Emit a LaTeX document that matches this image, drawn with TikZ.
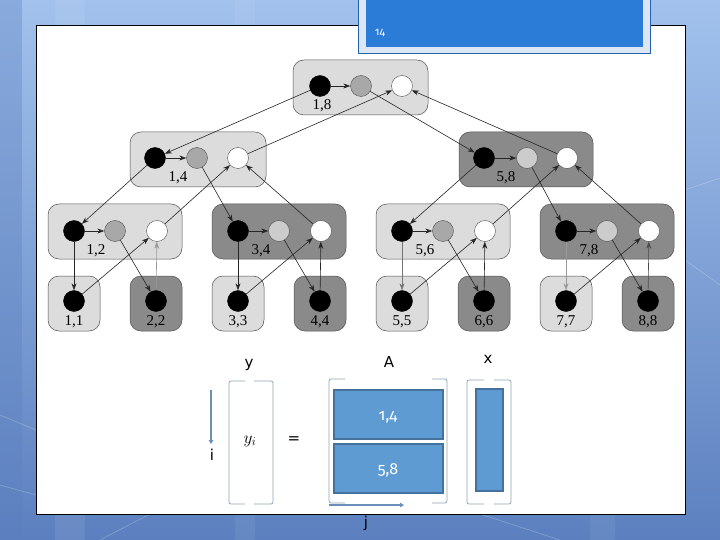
\documentclass[tikz,border=0pt]{standalone}
\usepackage{fontspec}
\setmainfont{Liberation Serif}
\newfontfamily\sfx{DejaVu Sans}
\newfontfamily\oldf[Numbers=OldStyle]{Fira Sans}
\usetikzlibrary{arrows.meta}
\definecolor{bgtop}{HTML}{A2C1EC}
\definecolor{bgbot}{HTML}{5C80BF}
\definecolor{lightbox}{HTML}{DCDCDC}
\definecolor{darkbox}{HTML}{8A8A8A}
\definecolor{boxedge}{HTML}{505050}
\definecolor{midgray}{HTML}{A8A8A8}
\definecolor{steel}{HTML}{6A8FB8}
\definecolor{brack}{HTML}{8EA6B8}
\definecolor{cellfill}{HTML}{5E9BD2}
\definecolor{celledge}{HTML}{44729C}
\definecolor{titlefill}{HTML}{2B7CD6}
\definecolor{titleedge}{HTML}{DCE6F4}
\tikzset{
  lbox/.style={fill=lightbox, draw=boxedge, line width=0.5pt, rounded corners=11pt},
  dbox/.style={fill=darkbox, draw=boxedge, line width=0.5pt, rounded corners=11pt},
  bk/.style={circle, fill=black, draw=black, minimum size=21pt, inner sep=0pt},
  gy/.style={circle, fill=midgray, draw=boxedge, line width=0.4pt, minimum size=21pt, inner sep=0pt},
  gyl/.style={gy, fill=lightbox!70!midgray},
  wt/.style={circle, fill=white, draw=boxedge, line width=0.4pt, minimum size=21pt, inner sep=0pt},
  lab/.style={font=\fontsize{15}{17}\selectfont, inner sep=0pt},
  conn/.style={draw=black!85, line width=0.6pt, -{Stealth[length=7pt,width=5pt]}},
  sarrow/.style={draw=steel, line width=1.4pt, -{Triangle[length=4pt,width=4.5pt]}},
  brk/.style={draw=brack, line width=0.8pt, rounded corners=2pt},
  cell/.style={fill=cellfill, draw=celledge, line width=2pt},
  slab/.style={font=\sfx\fontsize{15}{17}\selectfont, inner sep=0pt}
}
\begin{document}
\begin{tikzpicture}[x=1pt, y=-1pt]
\useasboundingbox (0,0) rectangle (720,540);
% background
\shade[top color=bgtop, bottom color=bgbot] (0,0) rectangle (720,540);
\fill[bgbot, opacity=0.35] (0,0) rectangle (22,540);
\fill[white, opacity=0.08] (55,0) rectangle (85,540);
\fill[white, opacity=0.06] (235,0) rectangle (255,540);
\fill[white, opacity=0.06] (590,0) rectangle (615,540);
\draw[white, opacity=0.25, line width=0.6pt] (0,415) -- (36,430);
\draw[white, opacity=0.25, line width=0.6pt] (0,485) -- (36,495);
\draw[white, opacity=0.25, line width=0.6pt] (100,540) -- (150,514);
\draw[white, opacity=0.25, line width=0.6pt] (480,514) -- (560,540);
\draw[white, opacity=0.25, line width=0.6pt] (685,190) -- (720,178);
\draw[white, opacity=0.25, line width=0.6pt] (685,260) -- (720,285);
% content area
\draw[fill=white, draw=black, line width=1pt] (36,26) rectangle (685,514);
% title box
\draw[fill=titleedge, draw=titlefill!80!black, line width=0.6pt] (358,-5) rectangle (650,53);
\fill[titlefill] (366,-5) rectangle (643,47);
\node[text=white, font=\oldf\fontsize{11}{12}\selectfont, inner sep=0pt] (num) at (380,33) {14};
% tree boxes
\draw[lbox] (293,60) rectangle (428,115);
\draw[lbox] (130,132) rectangle (266,187);
\draw[dbox] (459,132) rectangle (593,187);
\draw[lbox] (48,204) rectangle (182,259);
\draw[dbox] (212,204) rectangle (346,259);
\draw[lbox] (376,204) rectangle (510,259);
\draw[dbox] (540,204) rectangle (674,259);
\draw[lbox] (48,276) rectangle (100,331);
\draw[dbox] (130,276) rectangle (182,331);
\draw[lbox] (212,276) rectangle (264,331);
\draw[dbox] (294,276) rectangle (346,331);
\draw[lbox] (376,276) rectangle (428,331);
\draw[dbox] (458,276) rectangle (510,331);
\draw[lbox] (540,276) rectangle (592,331);
\draw[dbox] (622,276) rectangle (674,331);
% circles level 0
\node[bk] (b18) at (320,86) {};
\node[gy] (g18) at (361,86) {};
\node[wt] (w18) at (402,86) {};
\node[lab] (t18) at (322,106) {1,8};
% level 1
\node[bk] (b14) at (155,158) {};
\node[gy] (g14) at (197,158) {};
\node[wt] (w14) at (238,158) {};
\node[lab] (t14) at (178,178) {1,4};
\node[bk] (b58) at (484,158) {};
\node[gyl] (g58) at (527,158) {};
\node[wt] (w58) at (567,158) {};
\node[lab] (t58) at (506,178) {5,8};
% level 2
\node[bk] (b12) at (74,231) {};
\node[gy] (g12) at (115,231) {};
\node[wt] (w12) at (157,231) {};
\node[lab] (t12) at (96,251) {1,2};
\node[bk] (b34) at (238,231) {};
\node[gyl] (g34) at (279,231) {};
\node[wt] (w34) at (321,231) {};
\node[lab] (t34) at (261,251) {3,4};
\node[bk] (b56) at (402,231) {};
\node[gy] (g56) at (443,231) {};
\node[wt] (w56) at (485,231) {};
\node[lab] (t56) at (425,251) {5,6};
\node[bk] (b78) at (566,231) {};
\node[gyl] (g78) at (607,231) {};
\node[wt] (w78) at (649,231) {};
\node[lab] (t78) at (589,251) {7,8};
% level 3
\node[bk] (l1) at (74,301) {};
\node[bk] (l2) at (156,301) {};
\node[bk] (l3) at (238,301) {};
\node[bk] (l4) at (320,301) {};
\node[bk] (l5) at (402,301) {};
\node[bk] (l6) at (484,301) {};
\node[bk] (l7) at (566,301) {};
\node[bk] (l8) at (648,301) {};
\node[lab] (t1) at (74,322) {1,1};
\node[lab] (t2) at (156,322) {2,2};
\node[lab] (t3) at (238,322) {3,3};
\node[lab] (t4) at (320,322) {4,4};
\node[lab] (t5) at (402,322) {5,5};
\node[lab] (t6) at (484,322) {6,6};
\node[lab] (t7) at (566,322) {7,7};
\node[lab] (t8) at (648,322) {8,8};
% connectors inside nodes
\foreach \n in {18,14,58,12,34,56,78} { \draw[conn] (b\n) -- (g\n); }
% level 0-1
\draw[conn] (b18) -- (b14);
\draw[conn] (g18) -- (b58);
\draw[conn] (w14) -- (w18);
\draw[conn] (w58) -- (w18);
% level 1-2
\draw[conn] (b14) -- (b12);
\draw[conn] (g14) -- (b34);
\draw[conn] (w12) -- (w14);
\draw[conn] (w34) -- (w14);
\draw[conn] (b58) -- (b56);
\draw[conn] (g58) -- (b78);
\draw[conn] (w56) -- (w58);
\draw[conn] (w78) -- (w58);
% level 2-3
\draw[conn] (b12) -- (l1);
\draw[conn] (g12) -- (l2);
\draw[conn] (l1) -- (w12);
\draw[conn, draw=black!40] (l2) -- (w12);
\draw[conn] (b34) -- (l3);
\draw[conn] (g34) -- (l4);
\draw[conn] (l3) -- (w34);
\draw[conn] (l4) -- (w34);
\draw[conn, draw=black!55] (b56) -- (l5);
\draw[conn] (g56) -- (l6);
\draw[conn] (l5) -- (w56);
\draw[conn] (l6) -- (w56);
\draw[conn, draw=black!40] (b78) -- (l7);
\draw[conn] (g78) -- (l8);
\draw[conn] (l7) -- (w78);
\draw[conn, draw=black!70] (l8) -- (w78);
% matrix-vector part
\node[slab] (ly) at (249,365) {y};
\node[slab] (lA) at (389,362) {A};
\node[slab] (lx) at (488,359) {x};
% y brackets
\draw[brk] (245,381) -- (229,381) -- (229,504) -- (245,504);
\draw[brk] (254,381) -- (273,381) -- (273,504) -- (254,504);
\node[font=\fontsize{17}{19}\selectfont, inner sep=0pt] (yi) at (250,441) {$y_i$};
\node[slab] (eq) at (294,440) {=};
% A brackets
\draw[brk] (345,379) -- (329,379) -- (329,503) -- (345,503);
\draw[brk] (432,379) -- (447,379) -- (447,503) -- (432,503);
\draw[cell] (334,390) rectangle (443,439);
\draw[cell] (334,444) rectangle (443,493);
\node[text=white, font=\oldf\fontsize{16}{18}\selectfont, inner sep=0pt] (c14) at (388,417) {1,4};
\node[text=white, font=\oldf\fontsize{16}{18}\selectfont, inner sep=0pt] (c58) at (388,470) {5,8};
% x brackets
\draw[brk] (484,380) -- (467,380) -- (467,504) -- (484,504);
\draw[brk] (494,380) -- (511,380) -- (511,504) -- (494,504);
\draw[cell] (476,389) rectangle (503,491);
% index arrows
\coordinate (ia) at (211,390);
\coordinate (ib) at (211,444);
\draw[sarrow] (ia) -- (ib);
\node[slab] (li) at (212,455) {i};
\coordinate (ja) at (329,505);
\coordinate (jb) at (404,505);
\draw[sarrow] (ja) -- (jb);
\node[slab] (lj) at (366,523) {j};
\end{tikzpicture}
\end{document}
